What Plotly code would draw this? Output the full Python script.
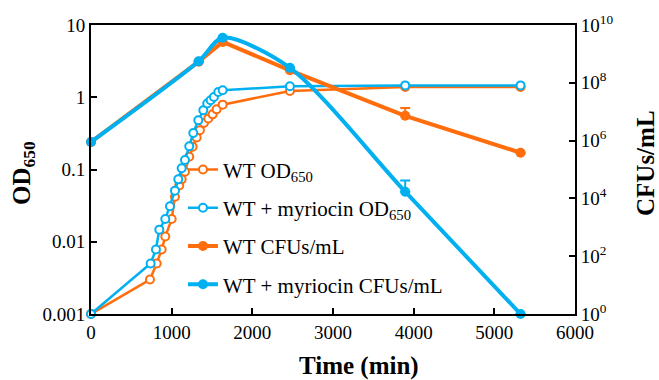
import plotly.graph_objects as go

# ---- data ----
time_od_wt = [0, 731, 814, 876, 921, 1000, 1041, 1094, 1124, 1165, 1218, 1260, 1310, 1350, 1400, 1454, 1508, 1557, 1632, 2466, 3895, 5325]
od_wt = [0.001, 0.003, 0.005, 0.0078, 0.0118, 0.0206, 0.042, 0.060, 0.073, 0.093, 0.15, 0.206, 0.278, 0.35, 0.44, 0.51, 0.58, 0.68, 0.79, 1.22, 1.39, 1.39]

time_od_myr = [0, 739, 805, 847, 921, 979, 1041, 1082, 1124, 1165, 1218, 1268, 1330, 1392, 1441, 1483, 1524, 1578, 1632, 2466, 3895, 5325]
od_myr = [0.001, 0.005, 0.0078, 0.0147, 0.0206, 0.031, 0.051, 0.073, 0.104, 0.135, 0.21, 0.32, 0.48, 0.66, 0.82, 0.91, 1.01, 1.18, 1.25, 1.42, 1.46, 1.46]

time_cfu = [0, 1335, 1632, 2466, 3895, 5325]
cfu_wt = [9e5, 5.4e8, 2.6e9, 2.7e8, 7.2e6, 3.8e5]
cfu_wt_err = [0, 0, 0, 0, 6.3e6, 0]
cfu_myr = [9e5, 5.6e8, 3.6e9, 3.3e8, 1.7e4, 1]
cfu_myr_err = [0, 0, 0, 0, 2.5e4, 0]

names = ["WT OD<sub>650</sub>", "WT + myriocin OD<sub>650</sub>", "WT CFUs/mL", "WT + myriocin CFUs/mL"]
od_ticks = [0.001, 0.01, 0.1, 1, 10]
od_ticktext = ["0.001", "0.01", "0.1", "1", "10"]
cfu_ticks = [1, 1e2, 1e4, 1e6, 1e8, 1e10]
cfu_ticktext = ["10<sup>0</sup>", "10<sup>2</sup>", "10<sup>4</sup>", "10<sup>6</sup>", "10<sup>8</sup>", "10<sup>10</sup>"]
x_ticks = [0, 1000, 2000, 3000, 4000, 5000, 6000]

ORANGE = "#FF6D0D"
BLUE = "#00B0F0"
FONT = "'Liberation Serif', 'DejaVu Serif', serif"

fig = go.Figure()
fig.add_trace(go.Scatter(x=time_od_wt, y=od_wt, name=names[0], mode="lines+markers",
                         line=dict(color=ORANGE, width=2.5),
                         marker=dict(symbol="circle", size=8, color="white", line=dict(color=ORANGE, width=2)),
                         cliponaxis=False, legendgroup="a"))
fig.add_trace(go.Scatter(x=time_od_myr, y=od_myr, name=names[1], mode="lines+markers",
                         line=dict(color=BLUE, width=2.5),
                         marker=dict(symbol="circle", size=8, color="white", line=dict(color=BLUE, width=2)),
                         cliponaxis=False, legendgroup="b"))
fig.add_trace(go.Scatter(x=time_cfu, y=cfu_wt, name=names[2], mode="lines+markers", yaxis="y2",
                         line=dict(color=ORANGE, width=4),
                         marker=dict(symbol="circle", size=10, color=ORANGE),
                         error_y=dict(type="data", symmetric=False, array=cfu_wt_err, arrayminus=[0]*len(cfu_wt),
                                      color=ORANGE, thickness=2, width=5),
                         cliponaxis=False, legendgroup="c"))
fig.add_trace(go.Scatter(x=time_cfu, y=cfu_myr, name=names[3], mode="lines+markers", yaxis="y2",
                         line=dict(color=BLUE, width=4, shape="spline", smoothing=0.8),
                         marker=dict(symbol="circle", size=10, color=BLUE),
                         error_y=dict(type="data", symmetric=False, array=cfu_myr_err, arrayminus=[0]*len(cfu_myr),
                                      color=BLUE, thickness=2, width=5),
                         cliponaxis=False, legendgroup="d"))

axis_common = dict(showline=True, linecolor="black", linewidth=2, ticks="inside", ticklen=6,
                   tickwidth=2, tickcolor="black", showgrid=False, zeroline=False,
                   tickfont=dict(family=FONT, size=19, color="black"))

fig.update_layout(
    width=659, height=380,
    margin=dict(l=91, r=84, t=25, b=66),
    paper_bgcolor="white", plot_bgcolor="white",
    font=dict(family=FONT, color="black"),
    showlegend=True,
    legend=dict(x=0.19, y=0.57, xanchor="left", yanchor="top", bgcolor="rgba(0,0,0,0)",
                font=dict(family=FONT, size=21, color="black"), tracegroupgap=8,
                traceorder="grouped"),
    xaxis=dict(range=[0, 6000], tickvals=x_ticks, mirror=True, **axis_common),
    yaxis=dict(type="log", range=[-3, 1], tickvals=od_ticks, ticktext=od_ticktext, **axis_common),
    yaxis2=dict(type="log", range=[0, 10], tickvals=cfu_ticks, ticktext=cfu_ticktext,
                overlaying="y", side="right", **axis_common),
    annotations=[
        dict(text="<b>Time (min)</b>", x=359, y=366, showarrow=False,
             font=dict(family=FONT, size=25, color="black")),
        dict(text="<b>OD<sub>650</sub></b>", textangle=-90, x=23, y=173, showarrow=False,
             font=dict(family=FONT, size=25, color="black")),
        dict(text="<b>CFUs/mL</b>", textangle=-90, x=645, y=163, showarrow=False,
             font=dict(family=FONT, size=25, color="black")),
    ],
)

# convert pixel positions of annotations to paper coordinates
pl, pr, pt, pb = 91, 659 - 84, 25, 380 - 66
for ann in fig.layout.annotations:
    px, py = ann.x, ann.y
    ann.xref = "paper"; ann.yref = "paper"
    ann.x = (px - pl) / (pr - pl)
    ann.y = (pb - py) / (pb - pt)
    ann.xanchor = "center"; ann.yanchor = "middle"

fig.write_html("out.html")
